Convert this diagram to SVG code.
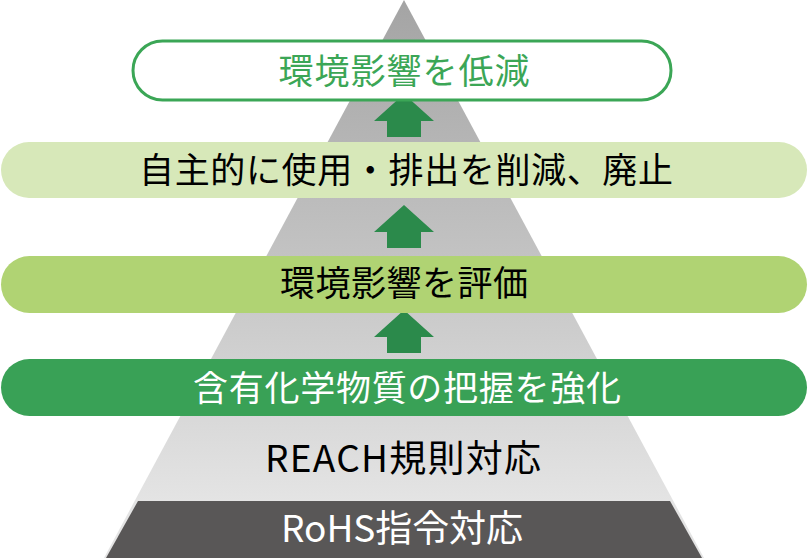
<svg xmlns="http://www.w3.org/2000/svg" width="808" height="558" viewBox="0 0 808 558">
<defs>
<linearGradient id="pyr" x1="0" y1="0" x2="0" y2="501" gradientUnits="userSpaceOnUse">
<stop offset="0" stop-color="#a4a4a4"/>
<stop offset="0.5" stop-color="#c2c2c2"/>
<stop offset="1" stop-color="#e4e4e4"/>
</linearGradient>
<path id="arrow" d="M0,0 L30,27 L17,27 L17,43 L-17,43 L-17,27 L-30,27 Z"/>
</defs>
<style>
.t{font-family:"Noto Sans CJK JP","Noto Sans",sans-serif;font-size:35px;text-anchor:middle;}
.b{font-size:37px;}
.arr{fill:#2b8a4b;}
</style>
<rect width="808" height="558" fill="#ffffff"/>
<g id="pyramid">
<polygon points="404,0 704,558 104,558" fill="url(#pyr)"/>
<polygon points="138,501 670,501 702,558 106,558" fill="#595757"/>
</g>
<g id="connectors">
<use href="#arrow" x="404" y="94" class="arr"/>
<use href="#arrow" x="404" y="205" class="arr"/>
<use href="#arrow" x="404" y="310" class="arr"/>
</g>
<g id="node-reduce">
<rect x="133" y="41" width="538" height="59" rx="29.5" fill="#ffffff" stroke="#3ba656" stroke-width="3"/>
<text class="t" x="404" y="84" fill="#3ba656" textLength="251">環境影響を低減</text>
</g>
<g id="node-voluntary">
<rect x="1" y="142" width="806" height="56" rx="28" fill="#d7e8b9"/>
<text class="t" x="406" y="183" fill="#000000" textLength="534">自主的に使用・排出を削減、廃止</text>
</g>
<g id="node-evaluate">
<rect x="1" y="256" width="806" height="57" rx="28.5" fill="#b0d373"/>
<text class="t" x="404" y="296" fill="#000000" textLength="248">環境影響を評価</text>
</g>
<g id="node-grasp">
<rect x="1" y="359" width="806" height="57" rx="28.5" fill="#39a156"/>
<text class="t" x="407" y="401" fill="#ffffff" textLength="428">含有化学物質の把握を強化</text>
</g>
<g id="node-reach">
<text class="t b" x="403" y="472" fill="#000000" textLength="276">REACH規則対応</text>
</g>
<g id="node-rohs">
<text class="t b" x="402" y="542" fill="#ffffff" textLength="242">RoHS指令対応</text>
</g>
</svg>
